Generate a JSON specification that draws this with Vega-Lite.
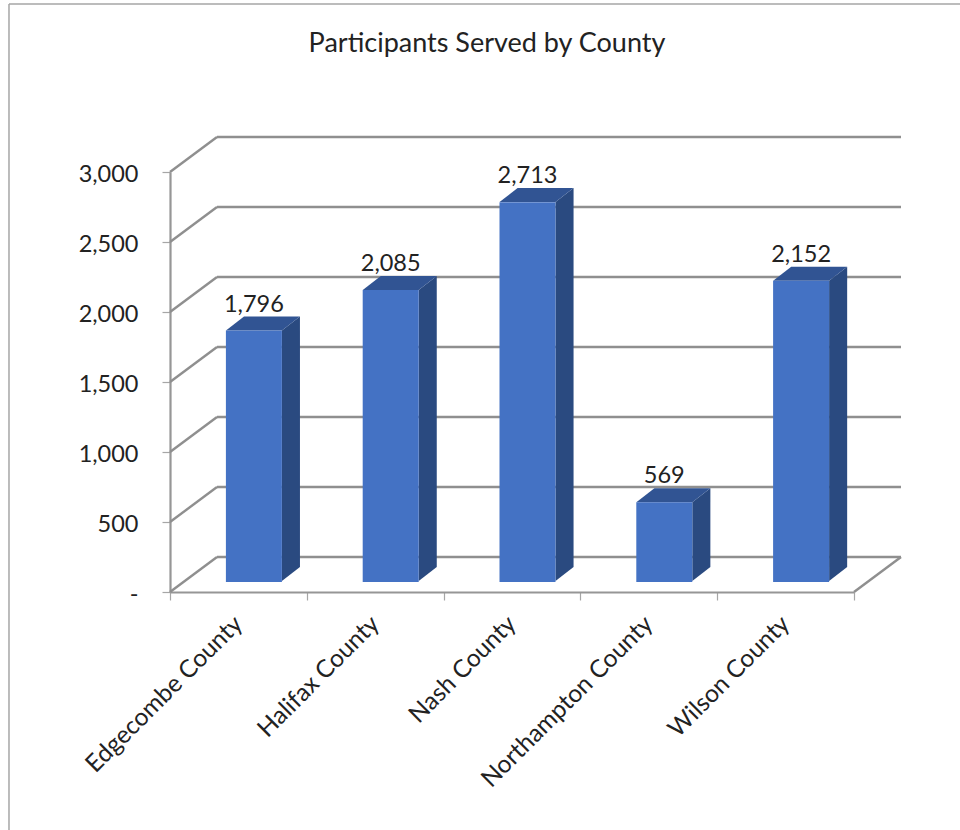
{
"$schema":"https://vega.github.io/schema/vega-lite/v6.json",
"autosize":{"type":"none"},
"width":684,"height":420,
"padding":{"left":170,"top":172,"right":106,"bottom":238},
"background":"white",
"view":{"stroke":null},
"title":{"text":"Participants Served by County","font":"Lato","fontSize":27,"fontWeight":"normal","color":"#222222","anchor":"middle","dx":-25,"offset":-55},
"datasets":{
"counties":[
{"county":"Edgecombe County","participants":1796},
{"county":"Halifax County","participants":2085},
{"county":"Nash County","participants":2713},
{"county":"Northampton County","participants":569},
{"county":"Wilson County","participants":2152}],
"walls":[
{"a":0,"b":0.3436,"p":0,"q":250},{"a":0,"b":0.3436,"p":500,"q":750},{"a":0,"b":0.3436,"p":1000,"q":1250},{"a":0,"b":0.3436,"p":1500,"q":1750},{"a":0,"b":0.3436,"p":2000,"q":2250},{"a":0,"b":0.3436,"p":2500,"q":2750},{"a":0,"b":0.3436,"p":3000,"q":3250},
{"a":0.3436,"b":5.3436,"p":250,"q":250},{"a":0.3436,"b":5.3436,"p":750,"q":750},{"a":0.3436,"b":5.3436,"p":1250,"q":1250},{"a":0.3436,"b":5.3436,"p":1750,"q":1750},{"a":0.3436,"b":5.3436,"p":2250,"q":2250},{"a":0.3436,"b":5.3436,"p":2750,"q":2750},{"a":0.3436,"b":5.3436,"p":3250,"q":3250},
{"a":5,"b":5.3436,"p":0,"q":250}],
"border":[
{"a":-1.177,"b":5.78,"p":4200,"q":4200},
{"a":-1.177,"b":-1.177,"p":4200,"q":-1700}],
"sides":[
{"county":"Edgecombe County","s":0.818,"lo":79,"hi":1868},{"county":"Edgecombe County","s":0.95,"lo":179,"hi":1968},
{"county":"Halifax County","s":1.818,"lo":79,"hi":2157},{"county":"Halifax County","s":1.95,"lo":179,"hi":2257},
{"county":"Nash County","s":2.818,"lo":79,"hi":2785},{"county":"Nash County","s":2.95,"lo":179,"hi":2885},
{"county":"Northampton County","s":3.818,"lo":79,"hi":641},{"county":"Northampton County","s":3.95,"lo":179,"hi":741},
{"county":"Wilson County","s":4.818,"lo":79,"hi":2224},{"county":"Wilson County","s":4.95,"lo":179,"hi":2324}],
"tops":[
{"county":"Edgecombe County","l":0.409,"r":0.818,"h":1868},{"county":"Edgecombe County","l":0.541,"r":0.95,"h":1968},
{"county":"Halifax County","l":1.409,"r":1.818,"h":2157},{"county":"Halifax County","l":1.541,"r":1.95,"h":2257},
{"county":"Nash County","l":2.409,"r":2.818,"h":2785},{"county":"Nash County","l":2.541,"r":2.95,"h":2885},
{"county":"Northampton County","l":3.409,"r":3.818,"h":641},{"county":"Northampton County","l":3.541,"r":3.95,"h":741},
{"county":"Wilson County","l":4.409,"r":4.818,"h":2224},{"county":"Wilson County","l":4.541,"r":4.95,"h":2324}]
},
"resolve":{"scale":{"x":"independent"},"axis":{"x":"independent"}},
"layer":[
{"data":{"name":"border"},"mark":{"type":"rule","stroke":"#a6a6a6","strokeWidth":1.5,"clip":false},
"encoding":{
"x":{"field":"a","type":"quantitative","scale":{"domain":[0,5]},"axis":null},"x2":{"field":"b"},
"y":{"field":"p","type":"quantitative","title":null,"scale":{"domain":[0,3000],"nice":false,"zero":false},"axis":{"values":[0,500,1000,1500,2000,2500,3000],"grid":false,"domainColor":"#969696","domainWidth":2.2,"tickColor":"#a6a6a6","tickWidth":1.2,"tickSize":8,"labelFont":"Lato","labelFontSize":23.5,"labelColor":"#222222","labelPadding":24,"labelOffset":2,"labelExpr":"datum.value === 0 ? '-\u2002' : format(datum.value, ',')"}},"y2":{"field":"q"}}},
{"data":{"name":"walls"},"mark":{"type":"rule","stroke":"#8f8f8f","strokeWidth":2.4,"clip":false},
"encoding":{
"x":{"field":"a","type":"quantitative","scale":{"domain":[0,5]},"axis":null},"x2":{"field":"b"},
"y":{"field":"p","type":"quantitative"},"y2":{"field":"q"}}},
{"data":{"name":"sides"},"mark":{"type":"area","fill":"#2a4a80","clip":false},
"encoding":{
"x":{"field":"s","type":"quantitative","scale":{"domain":[0,5]},"axis":null},
"y":{"field":"hi","type":"quantitative","stack":null},"y2":{"field":"lo"},
"detail":{"field":"county"}}},
{"data":{"name":"tops"},"mark":{"type":"area","orient":"horizontal","fill":"#315493","clip":false},
"encoding":{
"y":{"field":"h","type":"quantitative"},
"x":{"field":"l","type":"quantitative","stack":null,"scale":{"domain":[0,5]},"axis":null},"x2":{"field":"r"},
"detail":{"field":"county"}}},
{"data":{"name":"counties"},
"layer":[
{"mark":{"type":"bar","fill":"#4472c4","size":56,"xOffset":15.5,"yOffset":-10,"y2Offset":-11,"clip":false},
"encoding":{
"x":{"field":"county","type":"nominal","sort":null,"title":null,"scale":{"paddingInner":0,"paddingOuter":0},
"axis":{"orient":"bottom","tickBand":"extent","domainColor":"#969696","domainWidth":2.2,"tickColor":"#a6a6a6","tickWidth":1.2,"tickSize":8,"labelAngle":-45,"labelAlign":"right","labelBaseline":"middle","labelFont":"Lato","labelFontSize":24.5,"labelColor":"#222222","labelPadding":20,"labelLimit":400}},
"y":{"field":"participants","type":"quantitative"}}},
{"mark":{"type":"text","font":"Lato","fontSize":23.5,"color":"#222222","xOffset":15.5,"yOffset":-29,"baseline":"alphabetic","clip":false},
"encoding":{
"x":{"field":"county","type":"nominal","sort":null},
"y":{"field":"participants","type":"quantitative"},
"text":{"field":"participants","type":"quantitative","format":","}}}
]}
]
}
